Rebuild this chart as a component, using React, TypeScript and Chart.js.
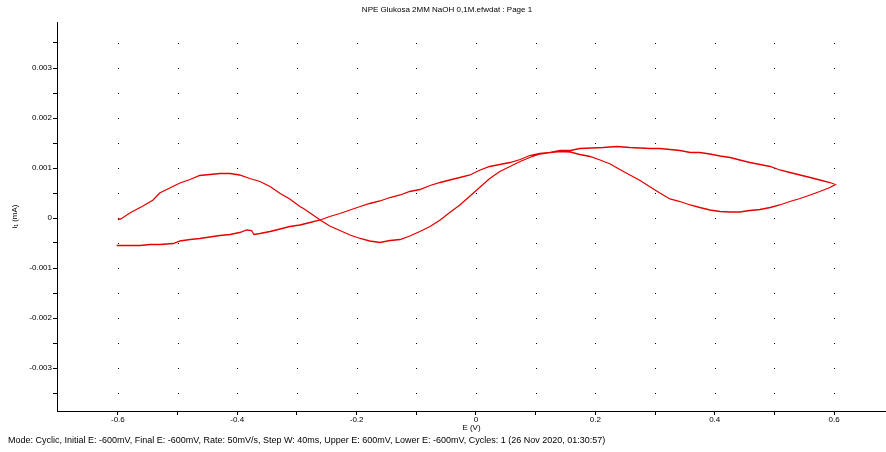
import React, { useEffect, useRef } from "react";
import { Chart, registerables } from "chart.js";

Chart.register(...registerables);

const TITLE = "NPE Glukosa 2MM NaOH 0,1M.efwdat : Page 1";
const FOOTER =
  "Mode: Cyclic, Initial E: -600mV, Final E: -600mV, Rate: 50mV/s, Step W: 40ms, Upper E: 600mV, Lower E: -600mV, Cycles: 1 (26 Nov 2020, 01:30:57)";
const X_TITLE = "E (V)";
const Y_TITLE = "i\u2081 (mA)";

// Forward scan (-0.6 V -> 0.6 V)
const forwardE = [
  -0.600, -0.595, -0.580, -0.558, -0.541, -0.530, -0.513, -0.496, -0.479, -0.463,
  -0.446, -0.429, -0.412, -0.396, -0.379, -0.362, -0.345, -0.328, -0.312, -0.295,
  -0.289, -0.273, -0.261, -0.245, -0.228, -0.211, -0.194, -0.178, -0.161, -0.144,
  -0.127, -0.111, -0.094, -0.077, -0.060, -0.044, -0.027, -0.010, 0.007, 0.023,
  0.040, 0.057, 0.074, 0.090, 0.107, 0.124, 0.141, 0.158, 0.174, 0.191,
  0.208, 0.225, 0.241, 0.258, 0.275, 0.292, 0.308, 0.325, 0.342, 0.359,
  0.375, 0.392, 0.409, 0.426, 0.442, 0.459, 0.476, 0.493, 0.509, 0.526,
  0.543, 0.560, 0.576, 0.593, 0.602,
];
const forwardI = [
  -0.00003, -0.00002, 0.00010, 0.00024, 0.00036, 0.00050, 0.00060, 0.00070, 0.00077, 0.00085,
  0.00087, 0.00089, 0.00089, 0.00086, 0.00079, 0.00073, 0.00063, 0.00049, 0.00038, 0.00023,
  0.00019, 0.00006, -0.00004, -0.00016, -0.00025, -0.00034, -0.00041, -0.00046, -0.00049, -0.00045,
  -0.00043, -0.00036, -0.00027, -0.00017, -0.00004, 0.00011, 0.00026, 0.00044, 0.00062, 0.00079,
  0.00093, 0.00103, 0.00113, 0.00121, 0.00128, 0.00131, 0.00133, 0.00132, 0.00127, 0.00123,
  0.00116, 0.00108, 0.00097, 0.00086, 0.00075, 0.00062, 0.00050, 0.00038, 0.00033, 0.00026,
  0.00021, 0.00016, 0.00013, 0.00012, 0.00012, 0.00015, 0.00017, 0.00021, 0.00026, 0.00033,
  0.00039, 0.00046, 0.00053, 0.00061, 0.00067,
];

// Reverse scan (0.6 V -> -0.6 V)
const reverseE = [
  0.593, 0.576, 0.560, 0.543, 0.526, 0.509, 0.493, 0.476, 0.459, 0.442,
  0.426, 0.409, 0.392, 0.375, 0.359, 0.342, 0.325, 0.308, 0.292, 0.258,
  0.236, 0.213, 0.174, 0.158, 0.141, 0.124, 0.107, 0.090, 0.074, 0.057,
  0.040, 0.023, 0.007, -0.010, -0.027, -0.044, -0.060, -0.077, -0.094, -0.111,
  -0.127, -0.144, -0.161, -0.178, -0.194, -0.211, -0.228, -0.245, -0.261, -0.278,
  -0.295, -0.312, -0.328, -0.345, -0.362, -0.372, -0.376, -0.384, -0.396, -0.412,
  -0.429, -0.446, -0.463, -0.479, -0.496, -0.507, -0.530, -0.546, -0.563, -0.580,
  -0.597, -0.602,
];
const reverseI = [
  0.00071, 0.00076, 0.00081, 0.00086, 0.00091, 0.00096, 0.00103, 0.00107, 0.00111, 0.00116,
  0.00121, 0.00124, 0.00128, 0.00131, 0.00131, 0.00135, 0.00137, 0.00139, 0.00139, 0.00141,
  0.00143, 0.00141, 0.00139, 0.00135, 0.00135, 0.00131, 0.00129, 0.00125, 0.00117, 0.00111,
  0.00107, 0.00103, 0.00096, 0.00086, 0.00081, 0.00076, 0.00071, 0.00065, 0.00057, 0.00053,
  0.00046, 0.00041, 0.00034, 0.00029, 0.00023, 0.00016, 0.00009, 0.00003, -0.00004, -0.00009,
  -0.00014, -0.00017, -0.00022, -0.00027, -0.00031, -0.00033, -0.00025, -0.00024, -0.00029, -0.00033,
  -0.00035, -0.00038, -0.00041, -0.00043, -0.00046, -0.00051, -0.00053, -0.00053, -0.00055, -0.00055,
  -0.00055, -0.00055,
];

const X_MIN = -0.702;
const X_MAX = 0.687;
const Y_MIN = -0.00386;
const Y_MAX = 0.00392;

const FONT_FAMILY = "'Liberation Sans', Arial, Helvetica, sans-serif";

const dotGridPlugin = {
  id: "dotGrid",
  beforeDatasetsDraw(chart: any) {
    const { ctx, scales } = chart;
    const xs = scales.x;
    const ys = scales.y;
    ctx.save();
    ctx.fillStyle = "#000";
    for (const xt of xs.ticks) {
      const px = Math.round(xs.getPixelForValue(xt.value));
      for (const yt of ys.ticks) {
        const py = Math.round(ys.getPixelForValue(yt.value));
        ctx.fillRect(px, py, 1, 1);
      }
    }
    ctx.restore();
  },
};

export default function App() {
  const canvasRef = useRef<HTMLCanvasElement | null>(null);

  useEffect(() => {
    if (!canvasRef.current) return;
    const points = [
      ...forwardE.map((e, i) => ({ x: e, y: forwardI[i] })),
      ...reverseE.map((e, i) => ({ x: e, y: reverseI[i] })),
    ];
    const font = { family: FONT_FAMILY, size: 8, weight: "normal" as const };
    const footerFont = { family: FONT_FAMILY, size: 9, weight: "normal" as const };
    const chart = new Chart(canvasRef.current, {
      type: "scatter",
      data: {
        datasets: [
          {
            data: points,
            showLine: true,
            borderColor: "#e60000",
            backgroundColor: "#e60000",
            borderWidth: 1.3,
            pointRadius: 0,
            tension: 0,
          },
        ],
      },
      plugins: [dotGridPlugin],
      options: {
        animation: false,
        responsive: true,
        maintainAspectRatio: false,
        layout: { padding: 0 },
        plugins: {
          legend: { display: false },
          tooltip: { enabled: false },
          title: {
            display: true,
            text: TITLE,
            color: "#000",
            font,
            padding: { top: 5, bottom: 7.4 },
          },
          subtitle: {
            display: true,
            text: FOOTER,
            position: "bottom",
            align: "start",
            color: "#000",
            font: footerFont,
            padding: { top: 2, bottom: 6.2 },
          },
        },
        scales: {
          x: {
            type: "linear",
            min: X_MIN,
            max: X_MAX,
            afterFit: (scale: any) => {
              scale.height = 22;
            },
            afterBuildTicks: (scale: any) => {
              scale.ticks = scale.ticks.filter(
                (t: any) => t.value >= -0.6 - 1e-9 && t.value <= 0.6 + 1e-9
              );
            },
            ticks: {
              stepSize: 0.1,
              includeBounds: false,
              autoSkip: false,
              maxRotation: 0,
              padding: 0,
              color: "#000",
              font,
              callback: (v: any) => {
                const n = Math.round(Number(v) * 10);
                if (n % 2 !== 0) return "";
                return String(n / 10);
              },
            },
            grid: {
              display: true,
              drawOnChartArea: false,
              drawTicks: true,
              tickLength: 4,
              color: "#000",
              lineWidth: 1,
            },
            border: { display: true, color: "#000", width: 1 },
            title: {
              display: true,
              text: X_TITLE,
              color: "#000",
              font,
              padding: { top: 0, bottom: 0 },
            },
          },
          y: {
            type: "linear",
            min: Y_MIN,
            max: Y_MAX,
            afterFit: (scale: any) => {
              scale.width = 49;
            },
            afterBuildTicks: (scale: any) => {
              scale.ticks = scale.ticks.filter(
                (t: any) => t.value >= -0.0035 - 1e-9 && t.value <= 0.0035 + 1e-9
              );
            },
            ticks: {
              stepSize: 0.0005,
              includeBounds: false,
              autoSkip: false,
              padding: 1,
              color: "#000",
              font,
              callback: (v: any) => {
                const k = Number(v) * 1000;
                const r = Math.round(k);
                if (Math.abs(k - r) > 1e-6) return "";
                return String(r / 1000);
              },
            },
            grid: {
              display: true,
              drawOnChartArea: false,
              drawTicks: true,
              tickLength: 4,
              color: "#000",
              lineWidth: 1,
            },
            border: { display: true, color: "#000", width: 1 },
            title: {
              display: true,
              text: Y_TITLE,
              color: "#000",
              font,
              padding: { top: 2, bottom: 0 },
            },
          },
        },
      } as any,
    });
    return () => chart.destroy();
  }, []);

  return (
    <div
      style={{
        position: "fixed",
        left: 8,
        top: 0,
        width: 878,
        height: 452,
        background: "#fff",
      }}
    >
      <canvas ref={canvasRef} />
    </div>
  );
}
